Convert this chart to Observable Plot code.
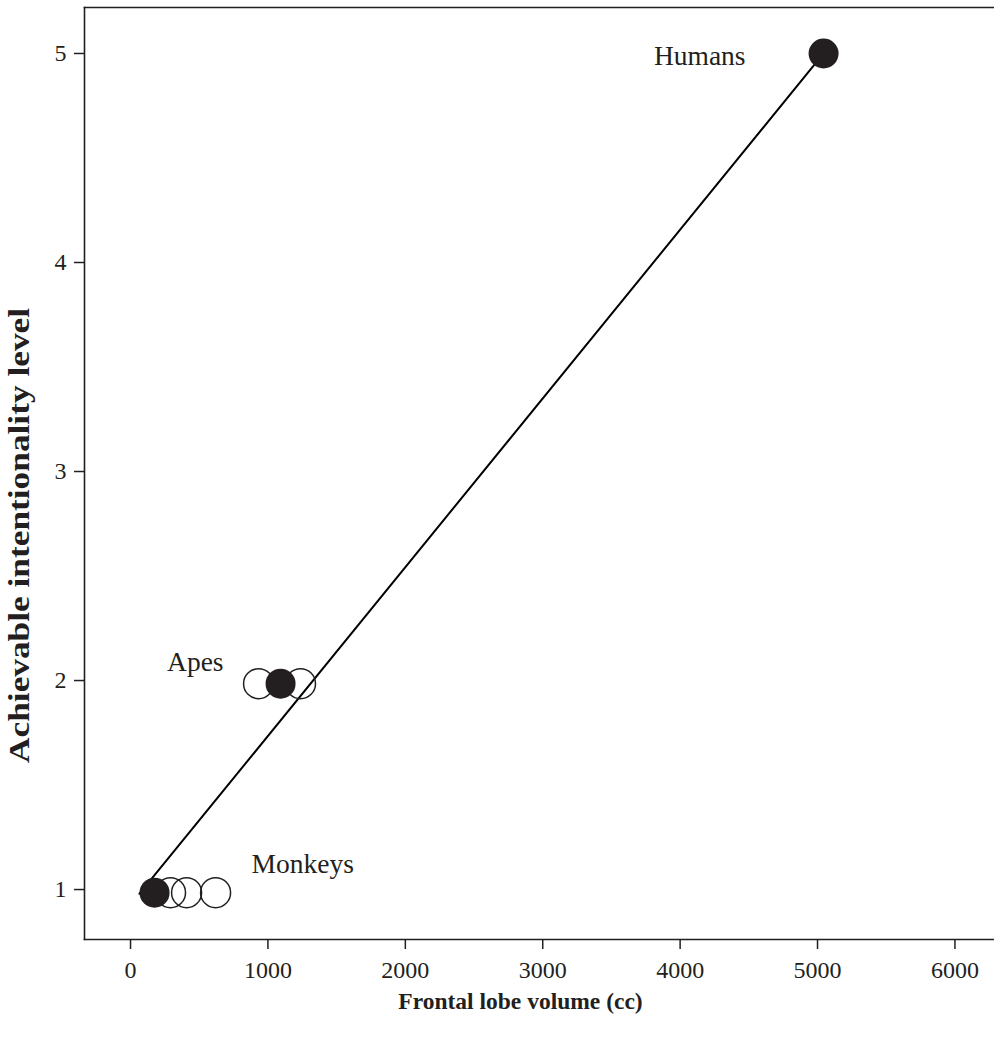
<!DOCTYPE html>
<html><head><meta charset="utf-8">
<script src="https://cdn.jsdelivr.net/npm/d3@7"></script>
<script src="https://cdn.jsdelivr.net/npm/@observablehq/plot@0.6"></script>
<style>body{margin:0;background:#fff}</style>
</head><body><div id="chart"></div>
<script>
// Group means (filled circles)
const groupNames = ["Monkeys", "Apes", "Humans"];
const groupX = [175, 1092, 5044];
const groupY = [0.985, 1.985, 5.0];
// Individual species (open circles)
const speciesGroup = ["Monkeys", "Monkeys", "Monkeys", "Apes", "Apes"];
const speciesX = [291, 408, 619, 932, 1237];
const speciesY = [0.985, 0.985, 0.985, 1.985, 1.985];
// Fitted line
const fitX = [65, 5044];
const fitY = [0.98, 5.0];
// Ticks and titles
const xTicks = [0, 1000, 2000, 3000, 4000, 5000, 6000];
const yTicks = [1, 2, 3, 4, 5];
const xTitle = "Frontal lobe volume (cc)";
const yTitle = "Achievable intentionality level";

const groups = groupNames.map((g, i) => ({group: g, x: groupX[i], y: groupY[i]}));
const species = speciesX.map((x, i) => ({group: speciesGroup[i], x, y: speciesY[i]}));
const fit = fitX.map((x, i) => ({x, y: fitY[i]}));

const ink = "#231f20";
const font = "'Liberation Serif', 'Times New Roman', serif";

const plot = Plot.plot({
  width: 994,
  height: 1039,
  marginLeft: 84,
  marginRight: 0,
  marginTop: 7,
  marginBottom: 100,
  style: {fontFamily: font, fontSize: "23px", color: ink, background: "#fff"},
  x: {domain: [-335, 6288], ticks: xTicks, label: null},
  y: {domain: [0.761, 5.22], ticks: yTicks, label: null},
  marks: [
    Plot.frame({anchor: "top", stroke: ink, strokeWidth: 1.6}),
    Plot.frame({anchor: "left", stroke: ink, strokeWidth: 1.6}),
    Plot.frame({anchor: "bottom", stroke: ink, strokeWidth: 1.6}),
    Plot.axisX({ticks: xTicks, tickFormat: d => String(d), tickSize: 10, tickPadding: 11, strokeWidth: 1.5, stroke: ink, fill: ink, fontSize: 24, label: null}),
    Plot.axisY({ticks: yTicks, tickFormat: d => String(d), tickSize: 10, tickPadding: 8, strokeWidth: 1.5, stroke: ink, fill: ink, fontSize: 24, label: null}),
    Plot.line(fit, {x: "x", y: "y", stroke: "#000", strokeWidth: 2}),
    Plot.dot(species, {x: "x", y: "y", r: 15, stroke: ink, strokeWidth: 1.5, fill: "none"}),
    Plot.dot(groups, {x: "x", y: "y", r: 15, fill: ink, stroke: "none"}),
    Plot.text(groups, {filter: d => d.group === "Humans", x: "x", y: "y", text: "group", textAnchor: "end", dx: -78, dy: 3, fontSize: 27.5, fill: ink}),
    Plot.text(groups, {filter: d => d.group === "Apes", x: "x", y: "y", text: "group", textAnchor: "end", dx: -57, dy: -21, fontSize: 27.5, fill: ink}),
    Plot.text(groups, {filter: d => d.group === "Monkeys", x: "x", y: "y", text: "group", textAnchor: "start", dx: 97, dy: -28, fontSize: 27.5, fill: ink}),
    Plot.text([xTitle], {text: d => d, frameAnchor: "bottom", textAnchor: "middle", lineAnchor: "middle", dx: -19, dy: 62, fontWeight: "bold", fontSize: 23.5, fill: ink}),
    Plot.text([yTitle], {text: d => d, frameAnchor: "left", textAnchor: "middle", lineAnchor: "middle", rotate: -90, dx: -65, dy: 62, fontWeight: "bold", fontSize: 30, fill: ink})
  ]
});

d3.select(plot).selectAll("text")
  .filter(function() { return this.textContent === yTitle; })
  .attr("textLength", 455)
  .attr("lengthAdjust", "spacingAndGlyphs");

document.getElementById("chart").appendChild(plot);
</script>
</body></html>
